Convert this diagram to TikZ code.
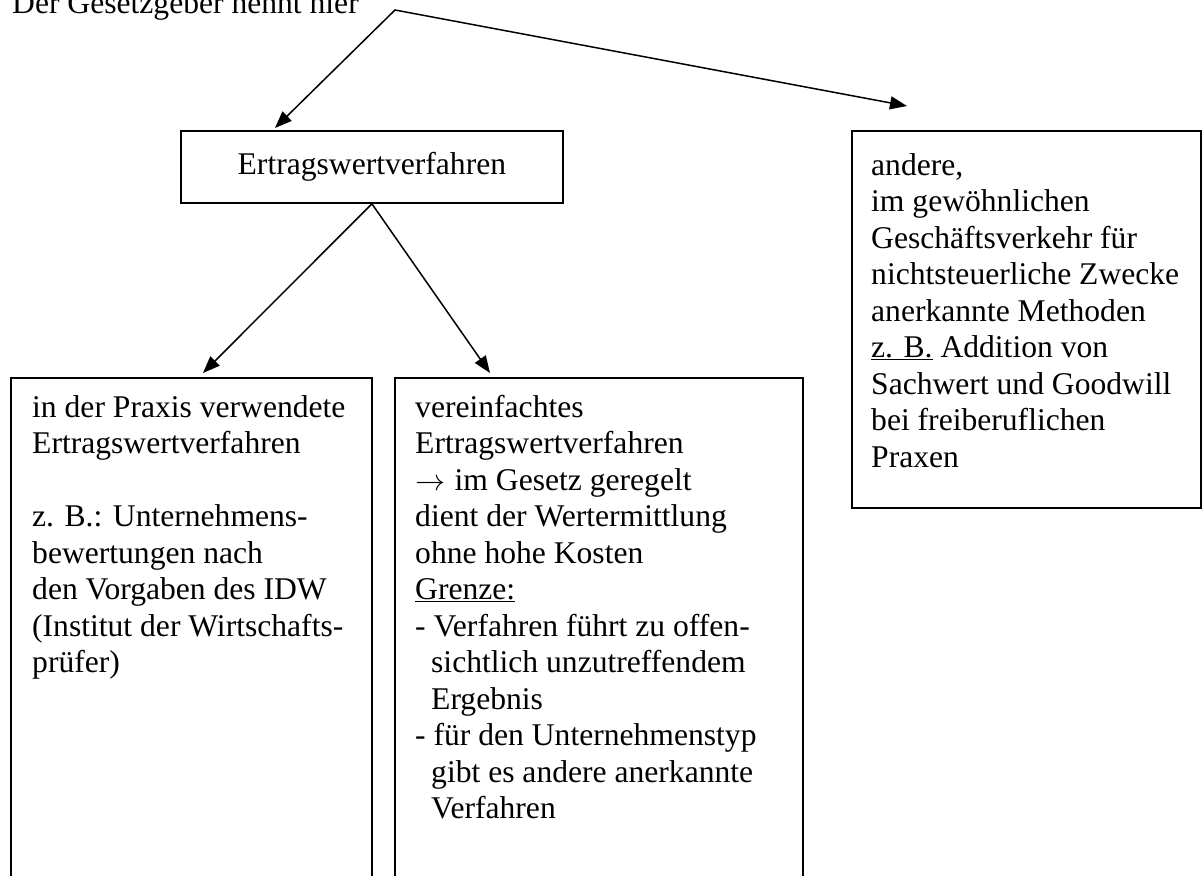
\documentclass[tikz,border=0pt]{standalone}
\usepackage{fontspec}
\setmainfont{Liberation Serif}
\usetikzlibrary{arrows.meta}
% left-aligned block whose baseline is that of its first line
\newcommand\boxlines[1]{\begin{tabular}[t]{@{}l@{}}#1\end{tabular}}
% a thin arrow one em wide
\newcommand\emarrow{\makebox[31.6pt][l]{\resizebox{30pt}{!}{$\rightarrow$}}}
\begin{document}
\begin{tikzpicture}[x=1pt,y=-1pt,
  box/.style={draw, line width=1.8pt, inner sep=0pt, anchor=north west},
  txt/.style={anchor=base west, inner sep=0pt},
  arr/.style={line width=1.5pt, {Triangle[length=17pt,width=13pt]}-{Triangle[length=17pt,width=13pt]}},
  font=\fontsize{31.6}{36.5}\selectfont]
\useasboundingbox (0,0) rectangle (1203,876);
\clip (0,0) rectangle (1203,876);

% heading
\node[txt] (head) at (12,13) {Der Gesetzgeber nennt hier};

% boxes
\node[box, minimum width=382pt, minimum height=72pt] (top) at (180,130) {Ertragswertverfahren};
\node[box, minimum width=361pt, minimum height=540pt] (lbox) at (10,377) {};
\node[box, minimum width=408pt, minimum height=540pt] (mbox) at (394,377) {};
\node[box, minimum width=349pt, minimum height=377pt] (rbox) at (851,130) {};

% box texts
\node[txt] (ltext) at (32,417) {\boxlines{in der Praxis verwendete\\
Ertragswertverfahren\\[36.5pt]
z. B.: Unternehmens-\\
bewertungen nach\\
den Vorgaben des IDW\\
(Institut der Wirtschafts-\\
prüfer)}};

\node[txt] (mtext) at (415,417) {\boxlines{vereinfachtes\\
Ertragswertverfahren\\
\emarrow{} im Gesetz geregelt\\
dient der Wertermittlung\\
ohne hohe Kosten\\
\underline{Grenze:}\\
- Verfahren führt zu offen-\\
\hspace*{16pt}sichtlich unzutreffendem\\
\hspace*{16pt}Ergebnis\\
- für den Unternehmenstyp\\
\hspace*{16pt}gibt es andere anerkannte\\
\hspace*{16pt}Verfahren}};

\node[txt] (rtext) at (871,175) {\boxlines{andere,\\
im gewöhnlichen\\
Geschäftsverkehr für\\
nichtsteuerliche Zwecke\\
anerkannte Methoden\\
\underline{z. B.} Addition von\\
Sachwert und Goodwill\\
bei freiberuflichen\\
Praxen}};

% arrow ends
\coordinate (apex) at (395,10);
\coordinate (e1) at (275,128);
\coordinate (e2) at (907,106);
\coordinate (e3) at (203,373);
\coordinate (e4) at (490,373);

% connectors
\draw[arr] (e1) -- (apex) -- (e2);
\draw[arr] (e3) -- (top.south) -- (e4);
\end{tikzpicture}
\end{document}
